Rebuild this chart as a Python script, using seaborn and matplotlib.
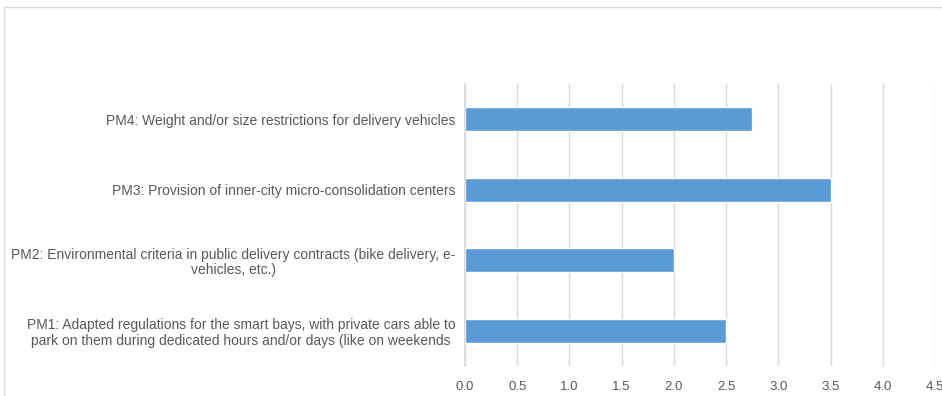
import matplotlib
matplotlib.use("Agg")
import matplotlib.pyplot as plt
import seaborn as sns
import pandas as pd
from matplotlib.patches import Rectangle

# Policy measures and their mean scores
measures = [
    "PM4: Weight and/or size restrictions for delivery vehicles",
    "PM3: Provision of inner-city micro-consolidation centers",
    "PM2: Environmental criteria in public delivery contracts (bike delivery, e-\nvehicles, etc.)",
    "PM1: Adapted regulations for the smart bays, with private cars able to\npark on them during dedicated hours and/or days (like on weekends",
]
scores = [2.75, 3.5, 2.0, 2.5]
x_ticks = [0.0, 0.5, 1.0, 1.5, 2.0, 2.5, 3.0, 3.5, 4.0, 4.5]

df = pd.DataFrame({"measure": measures, "score": scores})

sns.set_theme(style="white")
plt.rcParams["font.family"] = ["Liberation Sans", "DejaVu Sans"]

fig = plt.figure(figsize=(9.42, 3.96), dpi=100)
ax = fig.add_axes([0.4936, 0.0758, 0.4990, 0.7122])

sns.barplot(data=df, x="score", y="measure", orient="h", color="#5B9BD5",
            saturation=1, width=0.34, ax=ax)

ax.set_xlim(0, 4.5)
ax.set_xticks(x_ticks)
ax.set_xticklabels([f"{v:.1f}" for v in x_ticks], color="#595959", fontsize=9.5)
ax.set_xlabel("")
ax.set_ylabel("")
ax.tick_params(axis="x", length=0, pad=11)
ax.tick_params(axis="y", length=0, pad=7)
for lbl in ax.get_yticklabels():
    lbl.set_multialignment("center")
    lbl.set_linespacing(1.15)
    lbl.set_color("#595959")
    lbl.set_fontsize(10)

ax.xaxis.grid(True, color="#d9d9d9", linewidth=1)
ax.set_axisbelow(True)
for s in ax.spines.values():
    s.set_visible(False)
ax.spines["left"].set_visible(True)
ax.spines["left"].set_color("#d9d9d9")

# Light chart-area frame
fig.patches.append(Rectangle((4 / 942, -0.1), 1.2, (396 - 7) / 396 + 0.1,
                             transform=fig.transFigure, fill=False,
                             edgecolor="#d9d9d9", linewidth=1))

fig.savefig("out.png", dpi=100)
